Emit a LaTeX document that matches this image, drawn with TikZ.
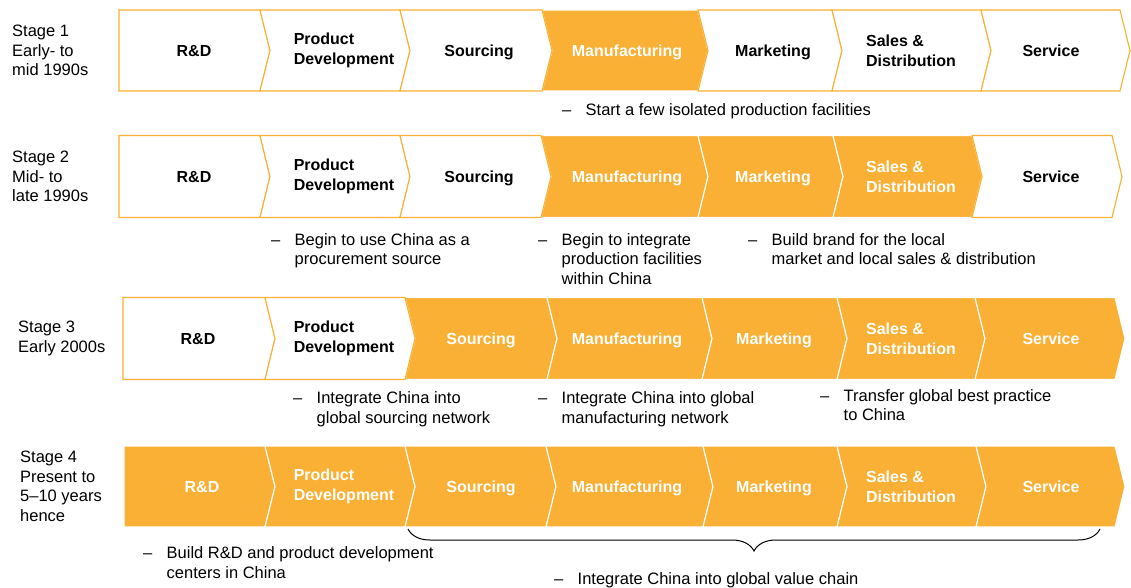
\documentclass[tikz,border=0pt]{standalone}
\usepackage{fontspec}
\setmainfont{Liberation Sans}
\usetikzlibrary{decorations.pathreplacing}

\definecolor{chainorange}{HTML}{FAB034}

\tikzset{
    plain cell/.style={draw=chainorange, fill=white, line width=1.1pt},
    lit cell/.style={draw=white, fill=chainorange, line width=1.1pt},
    cell text/.style={font=\bfseries\fontsize{16}{20.3}\selectfont, align=left, inner sep=0pt},
    lit text/.style={cell text, text=white},
    one line/.style={text depth=0pt},
    stage text/.style={font=\fontsize{16.5}{19.6}\selectfont, align=left, anchor=west, inner sep=0pt},
    note text/.style={font=\fontsize{16.5}{19.6}\selectfont, anchor=base west, inner sep=0pt},
}

\begin{document}
\begin{tikzpicture}[x=1pt, y=-1pt]
    \useasboundingbox (0,0) rectangle (1131,588);

    % stage 1
    \node[stage text] (st1) at (12,50.5) {Stage 1\\Early- to\\mid 1990s};
    \draw[lit cell] (542,10) -- (698,10) -- (708,50.5) -- (698,91) -- (542,91) -- (552,50.5) -- cycle;
    \draw[plain cell] (119,10) -- (260,10) -- (270,50.5) -- (260,91) -- (119,91) -- cycle;
    \draw[plain cell] (260,10) -- (400,10) -- (410,50.5) -- (400,91) -- (260,91) -- (270,50.5) -- cycle;
    \draw[plain cell] (400,10) -- (542,10) -- (552,50.5) -- (542,91) -- (400,91) -- (410,50.5) -- cycle;
    \draw[plain cell] (698,10) -- (832,10) -- (842,50.5) -- (832,91) -- (698,91) -- (708,50.5) -- cycle;
    \draw[plain cell] (832,10) -- (981,10) -- (991,50.5) -- (981,91) -- (832,91) -- (842,50.5) -- cycle;
    \draw[plain cell] (981,10) -- (1120,10) -- (1130,50.5) -- (1120,91) -- (981,91) -- (991,50.5) -- cycle;
    \node[cell text, one line] (s1rd) at (194,50.5) {R\&D};
    \node[cell text] (s1pd) at (344,50.5) {Product\\Development};
    \node[cell text, one line] (s1so) at (479,50.5) {Sourcing};
    \node[lit text, one line] (s1mf) at (627,50.5) {Manufacturing};
    \node[cell text, one line] (s1mk) at (773,50.5) {Marketing};
    \node[cell text] (s1sd) at (911,50.5) {Sales \&\\Distribution};
    \node[cell text, one line] (s1sv) at (1051,50.5) {Service};
    \node[note text] (n1a) at (562,116) {\begin{tabular}[t]{@{}p{23.5pt}@{}l@{}}--&Start a few isolated production facilities\end{tabular}};

    % stage 2
    \node[stage text] (st2) at (12,176.5) {Stage 2\\Mid- to\\late 1990s};
    \draw[lit cell] (541,135.5) -- (698,135.5) -- (708,176.5) -- (698,217.5) -- (541,217.5) -- (551,176.5) -- cycle;
    \draw[lit cell] (698,135.5) -- (833,135.5) -- (843,176.5) -- (833,217.5) -- (698,217.5) -- (708,176.5) -- cycle;
    \draw[lit cell] (833,135.5) -- (972,135.5) -- (982,176.5) -- (972,217.5) -- (833,217.5) -- (843,176.5) -- cycle;
    \draw[plain cell] (119,135.5) -- (260,135.5) -- (270,176.5) -- (260,217.5) -- (119,217.5) -- cycle;
    \draw[plain cell] (260,135.5) -- (400,135.5) -- (410,176.5) -- (400,217.5) -- (260,217.5) -- (270,176.5) -- cycle;
    \draw[plain cell] (400,135.5) -- (541,135.5) -- (551,176.5) -- (541,217.5) -- (400,217.5) -- (410,176.5) -- cycle;
    \draw[plain cell] (972,135.5) -- (1112,135.5) -- (1122,176.5) -- (1112,217.5) -- (972,217.5) -- (982,176.5) -- cycle;
    \node[cell text, one line] (s2rd) at (194,176.5) {R\&D};
    \node[cell text] (s2pd) at (344,176.5) {Product\\Development};
    \node[cell text, one line] (s2so) at (479,176.5) {Sourcing};
    \node[lit text, one line] (s2mf) at (627,176.5) {Manufacturing};
    \node[lit text, one line] (s2mk) at (773,176.5) {Marketing};
    \node[lit text] (s2sd) at (911,176.5) {Sales \&\\Distribution};
    \node[cell text, one line] (s2sv) at (1051,176.5) {Service};
    \node[note text] (n2a) at (271,245) {\begin{tabular}[t]{@{}p{23.5pt}@{}l@{}}--&Begin to use China as a\\&procurement source\end{tabular}};
    \node[note text] (n2b) at (538,245) {\begin{tabular}[t]{@{}p{23.5pt}@{}l@{}}--&Begin to integrate\\&production facilities\\&within China\end{tabular}};
    \node[note text] (n2c) at (748,245) {\begin{tabular}[t]{@{}p{23.5pt}@{}l@{}}--&Build brand for the local\\&market and local sales \& distribution\end{tabular}};

    % stage 3
    \node[stage text] (st3) at (18,338.5) {Stage 3\\Early 2000s};
    \draw[lit cell] (405,297.5) -- (547,297.5) -- (557,338.5) -- (547,379.5) -- (405,379.5) -- (415,338.5) -- cycle;
    \draw[lit cell] (547,297.5) -- (702,297.5) -- (712,338.5) -- (702,379.5) -- (547,379.5) -- (557,338.5) -- cycle;
    \draw[lit cell] (702,297.5) -- (837,297.5) -- (847,338.5) -- (837,379.5) -- (702,379.5) -- (712,338.5) -- cycle;
    \draw[lit cell] (837,297.5) -- (975,297.5) -- (985,338.5) -- (975,379.5) -- (837,379.5) -- (847,338.5) -- cycle;
    \draw[lit cell] (975,297.5) -- (1115,297.5) -- (1125,338.5) -- (1115,379.5) -- (975,379.5) -- (985,338.5) -- cycle;
    \draw[plain cell] (123,297.5) -- (265,297.5) -- (275,338.5) -- (265,379.5) -- (123,379.5) -- cycle;
    \draw[plain cell] (265,297.5) -- (405,297.5) -- (415,338.5) -- (405,379.5) -- (265,379.5) -- (275,338.5) -- cycle;
    \node[cell text, one line] (s3rd) at (198,338.5) {R\&D};
    \node[cell text] (s3pd) at (344,338.5) {Product\\Development};
    \node[lit text, one line] (s3so) at (481,338.5) {Sourcing};
    \node[lit text, one line] (s3mf) at (627,338.5) {Manufacturing};
    \node[lit text, one line] (s3mk) at (774,338.5) {Marketing};
    \node[lit text] (s3sd) at (911,338.5) {Sales \&\\Distribution};
    \node[lit text, one line] (s3sv) at (1051,338.5) {Service};
    \node[note text] (n3a) at (293,403.5) {\begin{tabular}[t]{@{}p{23.5pt}@{}l@{}}--&Integrate China into\\&global sourcing network\end{tabular}};
    \node[note text] (n3b) at (538,403.5) {\begin{tabular}[t]{@{}p{23.5pt}@{}l@{}}--&Integrate China into global\\&manufacturing network\end{tabular}};
    \node[note text] (n3c) at (820,401) {\begin{tabular}[t]{@{}p{23.5pt}@{}l@{}}--&Transfer global best practice\\&to China\end{tabular}};

    % stage 4
    \node[stage text] (st4) at (20,486.5) {Stage 4\\Present to\\5--10 years\\hence};
    \draw[lit cell] (124,446) -- (265,446) -- (275,486.5) -- (265,527) -- (124,527) -- cycle;
    \draw[lit cell] (265,446) -- (405,446) -- (415,486.5) -- (405,527) -- (265,527) -- (275,486.5) -- cycle;
    \draw[lit cell] (405,446) -- (546,446) -- (556,486.5) -- (546,527) -- (405,527) -- (415,486.5) -- cycle;
    \draw[lit cell] (546,446) -- (703,446) -- (713,486.5) -- (703,527) -- (546,527) -- (556,486.5) -- cycle;
    \draw[lit cell] (703,446) -- (837,446) -- (847,486.5) -- (837,527) -- (703,527) -- (713,486.5) -- cycle;
    \draw[lit cell] (837,446) -- (976,446) -- (986,486.5) -- (976,527) -- (837,527) -- (847,486.5) -- cycle;
    \draw[lit cell] (976,446) -- (1115,446) -- (1125,486.5) -- (1115,527) -- (976,527) -- (986,486.5) -- cycle;
    \node[lit text, one line] (s4rd) at (202,486.5) {R\&D};
    \node[lit text] (s4pd) at (344,486.5) {Product\\Development};
    \node[lit text, one line] (s4so) at (481,486.5) {Sourcing};
    \node[lit text, one line] (s4mf) at (627,486.5) {Manufacturing};
    \node[lit text, one line] (s4mk) at (774,486.5) {Marketing};
    \node[lit text] (s4sd) at (911,486.5) {Sales \&\\Distribution};
    \node[lit text, one line] (s4sv) at (1051,486.5) {Service};
    \node[note text] (n4a) at (143,558.5) {\begin{tabular}[t]{@{}p{23.5pt}@{}l@{}}--&Build R\&D and product development\\&centers in China\end{tabular}};
    \coordinate (chainL) at (408,529);
    \coordinate (chainR) at (1100,529);
    \draw[decorate, decoration={brace, mirror, amplitude=22pt}, line width=1pt] (chainL) -- (chainR);
    \node[note text] (n4b) at (554,584) {\begin{tabular}[t]{@{}p{23.5pt}@{}l@{}}--&Integrate China into global value chain\end{tabular}};
\end{tikzpicture}
\end{document}
